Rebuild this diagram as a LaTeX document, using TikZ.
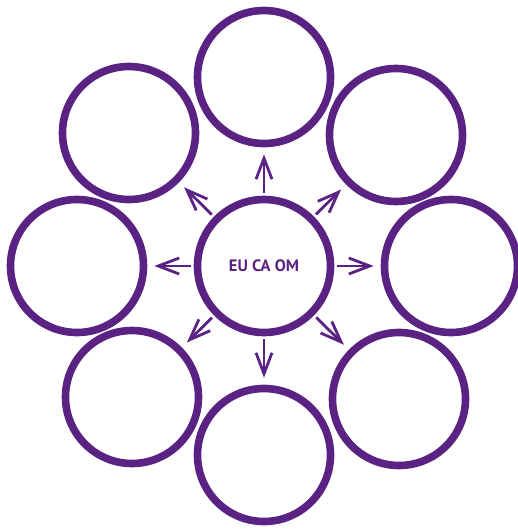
\documentclass[tikz,border=0pt]{standalone}
\usepackage{fontspec}
\setsansfont{PT Sans}
\usetikzlibrary{arrows.meta}
\definecolor{eupurple}{HTML}{5A2283}
\begin{document}
\begin{tikzpicture}[x=1pt,y=-1pt,
		bubble/.style={circle,draw=eupurple,line width=7.6pt,minimum size=133pt,inner sep=0pt,outer sep=3.8pt},
		spoke/.style={draw=eupurple,line width=2.8pt,-{Straight Barb[length=21pt,width=16pt]},shorten <=3pt,shorten >=7pt}]
			\useasboundingbox (0,0) rectangle (517,529);
			\node[bubble,font=\sffamily\bfseries\fontsize{16.5}{18}\selectfont,text=eupurple] (hub) at (264,266) {EU CA OM};
			\node[bubble] (top) at (264,77) {};
			\node[bubble] (topright) at (396,135) {};
			\node[bubble] (right) at (451,266) {};
			\node[bubble] (botright) at (399,399) {};
			\node[bubble] (bot) at (264,455) {};
			\node[bubble] (botleft) at (132,397) {};
			\node[bubble] (left) at (77,266) {};
			\node[bubble] (topleft) at (129,133) {};
			\foreach \t in {top,topright,right,botright,bot,botleft,left,topleft}
				\draw[spoke] (hub) -- (\t);
		\end{tikzpicture}
\end{document}
